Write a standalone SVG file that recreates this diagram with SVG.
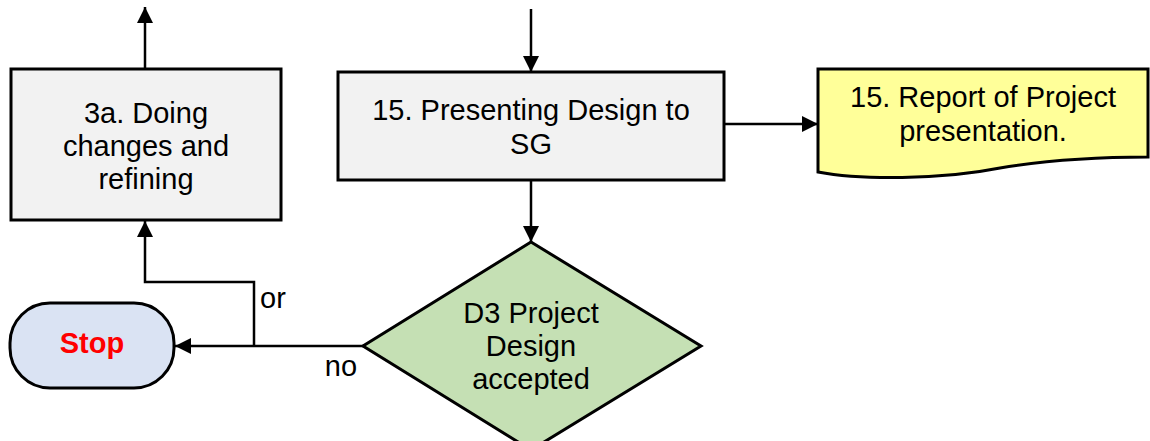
<svg xmlns="http://www.w3.org/2000/svg" width="1150" height="441" viewBox="0 0 1150 441">
<style>
.box{fill:#f2f2f2;stroke:#000;stroke-width:3}
.t{font-family:"Liberation Sans",Arial,sans-serif;font-size:29px;fill:#000;text-anchor:middle}
.c{fill:none;stroke:#000;stroke-width:2.5}
</style>
<defs>
<marker id="ah" viewBox="0 0 16 16" refX="16" refY="8" markerWidth="16" markerHeight="16" markerUnits="userSpaceOnUse" orient="auto">
<path d="M0,0 L16,8 L0,16 Z" fill="#000"/>
</marker>
</defs>
<g id="connectors">
<path class="c" d="M145,69 V7" marker-end="url(#ah)"/>
<path class="c" d="M531,9 V72" marker-end="url(#ah)"/>
<path class="c" d="M724,124 H818" marker-end="url(#ah)"/>
<path class="c" d="M531,180 V242" marker-end="url(#ah)"/>
<path class="c" d="M363,346 H175" marker-end="url(#ah)"/>
<path class="c" d="M254,346 V282 H145 V221" marker-end="url(#ah)"/>
<text class="t" x="273" y="308">or</text>
<text class="t" x="341" y="376">no</text>
</g>
<g id="n3a">
<rect class="box" x="11" y="69" width="270" height="151"/>
<text class="t" x="146" y="123">3a. Doing</text>
<text class="t" x="146" y="156">changes and</text>
<text class="t" x="146" y="189">refining</text>
</g>
<g id="n15">
<rect class="box" x="338" y="72" width="386" height="108"/>
<text class="t" x="531" y="120">15. Presenting Design to</text>
<text class="t" x="531" y="154">SG</text>
</g>
<g id="doc15">
<path d="M818,69 H1148 V157 C1110,157 1060,158 1000,168 C940,180 860,180 818,172 Z" fill="#ffff99" stroke="#000" stroke-width="3"/>
<text class="t" x="983" y="107">15. Report of Project</text>
<text class="t" x="983" y="141">presentation.</text>
</g>
<g id="d3">
<path d="M531,242 L701,346 L531,450 L363,346 Z" fill="#c5e0b4" stroke="#000" stroke-width="3"/>
<text class="t" x="531" y="323">D3 Project</text>
<text class="t" x="531" y="356">Design</text>
<text class="t" x="531" y="389">accepted</text>
</g>
<g id="stop">
<rect x="10" y="303" width="164" height="85" rx="40" ry="40" fill="#dae3f3" stroke="#000" stroke-width="3"/>
<text class="t" x="92" y="353" style="font-weight:bold;fill:#ff0000">Stop</text>
</g>
</svg>
